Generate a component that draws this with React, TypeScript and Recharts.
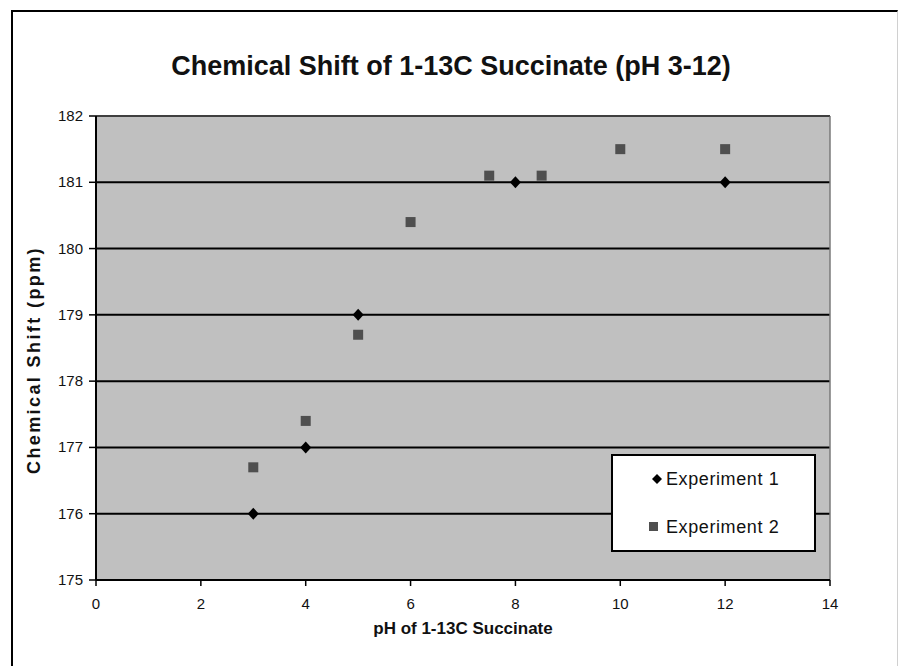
import React from "react";
import {
  ScatterChart,
  Scatter,
  XAxis,
  YAxis,
  CartesianGrid,
  Legend,
  ReferenceLine,
} from "recharts";

const FONT = '"Liberation Sans", Arial, sans-serif';

const exp1PH = [3, 4, 5, 8, 12];
const exp1Shift = [176, 177, 179, 181, 181];
const exp2PH = [3, 4, 5, 6, 7.5, 8.5, 10, 12];
const exp2Shift = [176.7, 177.4, 178.7, 180.4, 181.1, 181.1, 181.5, 181.5];
const xTicks = [0, 2, 4, 6, 8, 10, 12, 14];
const yTicks = [175, 176, 177, 178, 179, 180, 181, 182];

const exp1Data = exp1PH.map((x, i) => ({ x, y: exp1Shift[i] }));
const exp2Data = exp2PH.map((x, i) => ({ x, y: exp2Shift[i] }));

const Diamond = (props: any) => {
  const { cx, cy } = props;
  if (cx == null || cy == null) return null;
  return (
    <polygon
      points={`${cx},${cy - 6} ${cx + 5.5},${cy} ${cx},${cy + 6} ${cx - 5.5},${cy}`}
      fill="#000"
    />
  );
};

const Square = (props: any) => {
  const { cx, cy } = props;
  if (cx == null || cy == null) return null;
  return <rect x={cx - 5} y={cy - 5} width={10} height={10} fill="#4f4f4f" />;
};

const XTick = (props: any) => {
  const { x, y, payload } = props;
  return (
    <text x={x} y={y + 17} textAnchor="middle" fontFamily={FONT} fontSize={15} fill="#111">
      {payload.value}
    </text>
  );
};

const YTick = (props: any) => {
  const { x, y, payload } = props;
  return (
    <text x={x} y={y + 5} textAnchor="end" fontFamily={FONT} fontSize={15} fill="#111">
      {payload.value}
    </text>
  );
};

const LegendBox = () => (
  <div
    style={{
      width: 205,
      height: 98,
      boxSizing: "border-box",
      border: "2px solid #000",
      background: "#fff",
      position: "relative",
      fontFamily: FONT,
      fontSize: 18,
      color: "#111",
    }}
  >
    <svg
      width={205}
      height={98}
      style={{ position: "absolute", left: -2, top: -2 }}
    >
      <polygon points="46,20 51,25 46,30 41,25" fill="#000" />
      <rect x={38} y={68} width={9} height={9} fill="#4f4f4f" />
      <text x={55} y={31} fontFamily={FONT} fontSize={18} fill="#111" letterSpacing={0.6}>
        Experiment 1
      </text>
      <text x={55} y={79} fontFamily={FONT} fontSize={18} fill="#111" letterSpacing={0.6}>
        Experiment 2
      </text>
    </svg>
  </div>
);

export default function App() {
  return (
    <div
      style={{
        position: "absolute",
        left: 0,
        top: 0,
        width: 899,
        height: 666,
        overflow: "hidden",
        background: "#fff",
      }}
    >
      <div
        style={{
          position: "absolute",
          left: 11,
          top: 10,
          width: 884,
          height: 700,
          borderLeft: "2px solid #000",
          borderTop: "2px solid #000",
          borderRight: "1px solid #d0d0d0",
        }}
      />
      <div
        style={{
          position: "absolute",
          left: 0,
          top: 0,
          width: 899,
          height: 666,
        }}
      >
        <ScatterChart
          width={899}
          height={666}
          margin={{ top: 116, right: 69, left: 0, bottom: 0 }}
        >
          <CartesianGrid
            vertical={false}
            stroke="#000"
            strokeWidth={2}
            fill="#c0c0c0"
            fillOpacity={1}
          />
          <XAxis
            type="number"
            dataKey="x"
            domain={[0, 14]}
            ticks={xTicks}
            height={86}
            axisLine={{ stroke: "#000", strokeWidth: 2 }}
            tickLine={{ stroke: "#000", strokeWidth: 1.5 }}
            tickSize={6}
            tickMargin={6}
            tick={<XTick />}
            allowDataOverflow
          />
          <YAxis
            type="number"
            dataKey="y"
            domain={[175, 182]}
            ticks={yTicks}
            width={96}
            axisLine={{ stroke: "#000", strokeWidth: 2 }}
            tickLine={{ stroke: "#000", strokeWidth: 1.5 }}
            tickSize={7}
            tickMargin={6}
            tick={<YTick />}
            allowDataOverflow
          />
          <ReferenceLine x={14} stroke="#7a7a7a" strokeWidth={1.5} />
          <ReferenceLine y={182} stroke="#555" strokeWidth={1.5} />
          <Legend
            layout="horizontal"
            verticalAlign="middle"
            align="center"
            wrapperStyle={{ position: "absolute", left: 611, top: 454, width: 205, height: 98 }}
            content={() => <LegendBox />}
          />
          <Scatter
            name="Experiment 1"
            data={exp1Data}
            shape={Diamond}
            isAnimationActive={false}
          />
          <Scatter
            name="Experiment 2"
            data={exp2Data}
            shape={Square}
            isAnimationActive={false}
          />
        </ScatterChart>
      </div>
      <div
        style={{
          position: "absolute",
          left: 0,
          top: 51,
          width: 902,
          textAlign: "center",
          fontFamily: FONT,
          fontWeight: "bold",
          fontSize: 27,
          lineHeight: "30px",
          color: "#111",
          whiteSpace: "nowrap",
        }}
      >
        Chemical Shift of 1-13C Succinate (pH 3-12)
      </div>
      <div
        style={{
          position: "absolute",
          left: 263,
          top: 619,
          width: 400,
          textAlign: "center",
          fontFamily: FONT,
          fontWeight: "bold",
          fontSize: 17,
          lineHeight: "20px",
          color: "#111",
          whiteSpace: "nowrap",
        }}
      >
        pH of 1-13C Succinate
      </div>
      <div
        style={{
          position: "absolute",
          left: 34 - 150,
          top: 360 - 11,
          width: 300,
          height: 22,
          textAlign: "center",
          fontFamily: FONT,
          fontWeight: "bold",
          fontSize: 18,
          lineHeight: "22px",
          letterSpacing: 2.4,
          color: "#111",
          whiteSpace: "nowrap",
          transform: "rotate(-90deg)",
          transformOrigin: "150px 11px",
        }}
      >
        Chemical Shift (ppm)
      </div>
    </div>
  );
}
